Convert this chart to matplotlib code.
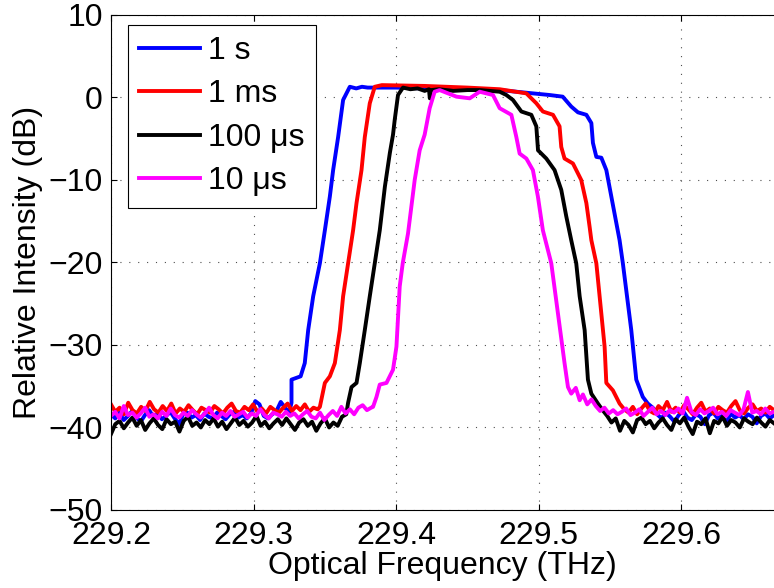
import numpy as np
import matplotlib
matplotlib.use("Agg")
import matplotlib.pyplot as plt

plt.rcParams['font.family'] = ['Liberation Sans', 'DejaVu Sans']

labels = ['1 s', '1 ms', '100 \u03bcs', '10 \u03bcs']
colors = ['#0000ff', '#ff0000', '#000000', '#ff00ff']

# noise floor left of the passband (dB), evenly spaced between 229.2 and the rise
blue_floor_l = [-38.4,-38.9,-38.2,-39.1,-38.6,-38.0,-38.8,-39.3,-38.5,-37.9,-38.7,-38.3,-39.0,-38.6,-38.1,
                -38.9,-39.6,-38.4,-38.2,-38.8,-38.5,-39.1,-38.3,-38.7,-38.9,-38.2,-38.6,-39.0,-38.4,-38.1,
                -38.8,-38.5,-38.9,-38.3,-36.8,-37.2,-38.6,-38.9,-38.4,-38.0,-36.9,-37.6,-38.2]
red_floor_l = [-37.2,-38.1,-37.6,-38.4,-37.0,-37.9,-38.3,-37.5,-38.0,-36.9,-37.8,-38.2,-37.4,-38.0,-37.1,
               -38.3,-37.7,-38.1,-37.3,-37.9,-38.4,-37.6,-37.9,-38.2,-37.4,-37.8,-38.3,-37.6,-37.1,-38.0,
               -38.2,-37.5,-37.9,-37.2,-38.1,-37.7,-38.3,-37.5,-37.9,-38.2,-37.6,-37.1,-38.0,-37.4,-37.9,
               -37.2,-38.1,-37.6,-37.8]
black_floor_l = [-40.8,-39.6,-39.2,-40.1,-39.4,-38.8,-39.8,-39.1,-40.3,-39.5,-38.9,-39.7,-40.2,-39.0,-39.6,
                 -39.3,-40.5,-39.2,-38.7,-39.8,-39.4,-40.0,-39.1,-39.6,-38.9,-39.9,-39.3,-40.2,-39.5,-38.8,
                 -39.7,-39.2,-39.9,-39.4,-38.6,-39.8,-39.3,-40.1,-39.5,-39.0,-39.7,-38.9,-39.6,-40.3,-39.4,
                 -39.0,-39.8,-39.3,-40.4,-39.5,-38.9,-40.0,-39.4,-39.8,-38.7,-38.4]
mag_floor_l = [-38.6,-38.1,-38.9,-37.4,-38.5,-38.2,-38.8,-38.3,-37.6,-38.7,-38.4,-38.9,-38.1,-38.6,-37.7,
               -38.5,-38.8,-38.2,-38.6,-37.9,-38.4,-38.8,-38.3,-37.6,-38.5,-38.9,-38.2,-38.6,-38.0,-38.7,
               -38.4,-38.1,-38.8,-38.3,-38.6,-37.8,-38.5,-38.9,-38.2,-38.4,-38.7,-38.1,-38.6,-38.3,-38.9,
               -38.4,-38.0,-38.7,-38.9,-38.2,-39.1,-38.5,-38.0,-38.6,-37.5,-38.3,-37.8,-38.4,-37.6,-37.3,
               -37.9,-37.6]

# passband edges and top (THz, dB)
blue_edge_f = [229.3266,229.3266,229.3330,229.3359,229.3383,229.3418,229.3465,229.3500,229.3535,229.3558,
               229.3593,229.3628,229.3675,229.3720,229.3760,229.3800,229.4000,229.4200,229.4500,229.4726,
               229.4900,229.5076,229.5168,229.5228,229.5275,229.5334,229.5369,229.5380,229.5404,229.5439,
               229.5474,229.5509,229.5544,229.5567,229.5590,229.5649,229.5684,229.5730,229.5765]
blue_edge_db = [-37.0,-34.2,-33.8,-32.2,-28.2,-24.1,-20.1,-16.1,-12.0,-8.8,
                -4.8,-0.3,1.3,1.1,1.3,1.2,1.2,1.1,1.0,0.9,
                0.6,0.3,0.1,-1.1,-1.8,-2.1,-3.1,-5.5,-7.2,-7.3,
                -8.8,-12.0,-15.2,-17.3,-20.1,-28.2,-34.2,-36.3,-37.1]
red_edge_f = [229.3465,229.3500,229.3535,229.3570,229.3605,229.3628,229.3663,229.3698,229.3722,229.3757,
              229.3780,229.3815,229.3850,229.3900,229.4200,229.4500,229.4726,229.4913,229.4983,229.5029,
              229.5100,229.5146,229.5158,229.5181,229.5240,229.5298,229.5334,229.5357,229.5369,229.5404,
              229.5439,229.5462,229.5474,229.5520,229.5567]
red_edge_db = [-37.5,-34.6,-33.8,-32.2,-28.2,-24.1,-20.1,-16.1,-12.8,-8.8,
               -4.8,-0.7,1.3,1.5,1.4,1.2,1.0,0.5,-0.7,-1.7,
               -2.1,-3.5,-6.0,-7.4,-8.0,-10.0,-12.8,-15.7,-17.3,-20.1,
               -26.2,-30.2,-34.6,-35.5,-37.1]
black_edge_f = [229.3663,229.3687,229.3722,229.3745,229.3780,229.3815,229.3850,229.3885,229.3921,229.3956,
                229.3978,229.3990,229.4013,229.4048,229.4100,229.4150,229.4200,229.4230,229.4236,229.4245,
                229.4300,229.4400,229.4500,229.4586,229.4726,229.4773,229.4819,229.4878,229.4948,229.4983,
                229.4995,229.5053,229.5111,229.5158,229.5193,229.5228,229.5263,229.5287,229.5322,229.5345,
                229.5369,229.5415,229.5448]
black_edge_db = [-37.0,-35.1,-34.6,-32.2,-28.2,-24.1,-20.1,-16.1,-10.8,-6.7,
                 -4.5,-2.7,0.3,1.2,1.0,1.1,0.8,1.0,-0.1,0.9,
                 1.0,0.8,0.9,0.9,0.7,0.3,-0.3,-1.7,-2.1,-3.5,
                 -6.4,-7.4,-8.8,-11.2,-14.4,-17.3,-20.1,-24.1,-28.2,-34.2,
                 -35.9,-37.1,-37.9]
mag_edge_f = [229.3838,229.3862,229.3885,229.3932,229.3978,229.4002,229.4025,229.4046,229.4083,229.4130,
              229.4165,229.4200,229.4235,229.4270,229.4305,229.4423,229.4516,229.4586,229.4679,229.4726,
              229.4808,229.4843,229.4866,229.4913,229.4959,229.4994,229.5029,229.5088,229.5135,229.5181,
              229.5205,229.5228,229.5260,229.5287,229.5310,229.5340,229.5370]
mag_edge_db = [-37.5,-36.3,-34.8,-34.6,-33.0,-30.2,-22.9,-20.1,-16.5,-10.0,
               -6.4,-4.5,-1.3,0.7,0.9,0.1,-0.1,0.7,0.3,-1.3,
               -2.1,-4.8,-6.8,-7.4,-8.8,-12.0,-16.1,-20.1,-26.2,-32.2,
               -35.1,-35.9,-35.2,-36.7,-36.0,-37.2,-36.6]

# noise floor right of the passband, evenly spaced up to 229.665
blue_floor_r = [-37.6,-38.4,-38.9,-38.2,-38.7,-39.3,-38.5,-38.0,-38.8,-39.1,-38.4,-38.7,-39.6,-38.5,-38.2,
                -38.9,-38.6,-39.4,-38.3,-38.8,-38.5,-39.0,-38.4,-38.7,-39.5,-38.6,-38.3,-38.9,-38.5]
red_floor_r = [-37.8,-38.2,-37.5,-38.4,-37.7,-37.1,-38.0,-38.3,-37.4,-37.9,-36.9,-38.1,-37.6,-38.2,-37.3,
               -37.8,-38.4,-37.6,-37.0,-38.1,-37.7,-38.3,-37.5,-37.9,-38.2,-37.4,-36.8,-37.9,-38.3,-37.6,
               -37.2,-38.0,-37.7,-38.2,-37.5,-37.9]
black_floor_r = [-38.6,-39.4,-38.9,-40.4,-39.2,-39.7,-40.6,-39.1,-38.8,-39.6,-39.2,-40.1,-39.4,-38.9,-39.7,
                 -40.3,-39.0,-39.5,-38.8,-39.9,-40.8,-39.3,-39.6,-38.9,-40.7,-39.2,-39.5,-38.7,-39.8,-39.1,
                 -39.4,-40.0,-38.9,-39.3,-39.6,-38.8,-39.4,-39.9,-39.1,-39.5]
mag_floor_r = [-37.4,-38.0,-37.6,-38.3,-37.9,-38.4,-38.1,-37.7,-38.5,-38.2,-37.8,-38.6,-38.1,-37.6,-38.4,
               -38.0,-38.5,-37.9,-38.2,-37.7,-38.3,-36.4,-38.1,-38.5,-37.8,-38.3,-38.0,-37.6,-38.4,-38.1,
               -38.6,-37.9,-38.2,-38.5,-37.8,-35.7,-38.2,-38.0,-38.4,-37.7,-38.3,-38.1]

f_start, f_end = 229.2, 229.665
floor_l_end = [229.325, 229.345, 229.365, 229.3825]
floor_r_start = [229.58, 229.56, 229.548, 229.54]

floors_l = [blue_floor_l, red_floor_l, black_floor_l, mag_floor_l]
floors_r = [blue_floor_r, red_floor_r, black_floor_r, mag_floor_r]
edges_f = [blue_edge_f, red_edge_f, black_edge_f, mag_edge_f]
edges_db = [blue_edge_db, red_edge_db, black_edge_db, mag_edge_db]

fig = plt.figure(figsize=(7.74, 5.88), dpi=100)
ax = fig.add_axes([0.1434, 0.1327, 0.8566, 0.8418])

for i in range(4):
    fl = np.linspace(f_start, floor_l_end[i], len(floors_l[i]))
    fr = np.linspace(floor_r_start[i], f_end, len(floors_r[i]))
    f = np.concatenate([fl, edges_f[i], fr])
    db = np.concatenate([floors_l[i], edges_db[i], floors_r[i]])
    ax.plot(f, db, color=colors[i], lw=2.8, label=labels[i])

ax.set_xlim(f_start, f_end)
ax.set_ylim(-50, 10)
ax.set_xticks([229.2, 229.3, 229.4, 229.5, 229.6])
ax.set_xticklabels(['229.2', '229.3', '229.4', '229.5', '229.6'])
ax.set_yticks(np.arange(-50, 11, 10))
ax.grid(True, color='0.3', linestyle=(0, (1, 7)), linewidth=0.8)
ax.tick_params(direction='in', length=4, labelsize=23, top=True, right=False, pad=6)
ax.tick_params(axis='x', pad=8)
ax.spines['right'].set_visible(False)
for s in ['left', 'bottom', 'top']:
    ax.spines[s].set_linewidth(0.8)

ax.set_xlabel('Optical Frequency (THz)', fontsize=23, labelpad=0)
ax.set_ylabel('Relative Intensity (dB)', fontsize=23, labelpad=4)

leg = ax.legend(loc='upper left', bbox_to_anchor=(0.026, 0.98), fontsize=23, frameon=True,
                fancybox=False, framealpha=1, edgecolor='k', handlelength=1.9,
                handletextpad=0.25, borderpad=0.35, labelspacing=0.42, borderaxespad=0)
leg.get_frame().set_linewidth(0.8)

fig.savefig('out.png', dpi=100)
